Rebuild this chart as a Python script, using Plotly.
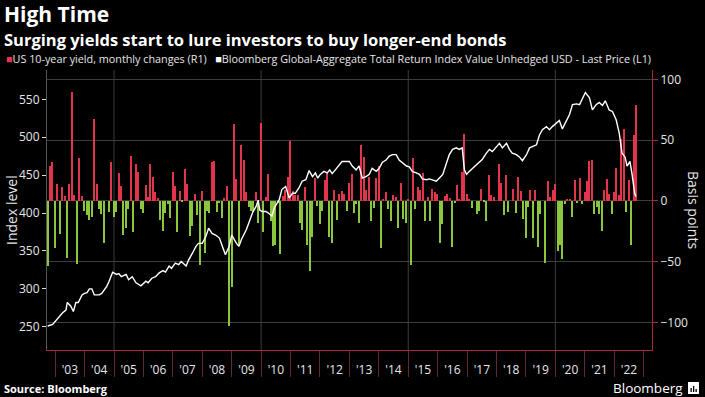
import pandas as pd
import plotly.graph_objects as go

# ---------------- data ----------------
# US 10-year yield, monthly change in basis points, month-ends Sep 2002 .. Sep 2022
yield_change_bp = [
    -54, 29, 32, -39,
    14, -27, 11, 4, -47, 14, 90, 5, -52, 35, 4, -8,
    -12, -16, -13, 67, 14, -7, -11, -35, 0, -9, 32, -13,
    -9, 23, 12, -28, -22, -7, 37, -26, 30, 24, -7, -10,
    13, 3, 30, 20, 7, 2, -16, -25, -10, -3, -14, 24,
    12, -26, 8, -1, 26, 14, -29, -21, 6, -12, -53, 8,
    -43, -8, -10, 32, 33, -9, -2, -14, 2, 12, -103, -71,
    63, 18, -36, 46, 34, 7, -5, -8, -9, 7, -18, 64,
    -26, 3, 22, -17, -37, -36, -2, -44, 4, 9, 20, 49,
    8, 5, 5, -18, -24, 11, -36, -58, -30, 19, -4, -19,
    -8, 17, 24, -30, -35, 9, -16, 6, 8, 6, -8, 15,
    22, -10, -3, -18, 46, 36, 9, 20, -17, -6, 19, 29,
    -39, 1, 7, -7, -17, 5, 3, -22, 15, -15, -18, 1,
    -53, 35, -7, 11, 9, 23, -17, 3, -17, 10, 7, 6,
    -35, -19, 4, 6, 2, -38, -2, 13, 1, 24, 55, 6,
    1, -6, 0, -11, -8, 10, -1, -17, 21, 5, 3, 0,
    30, 15, -12, 21, -9, 0, 10, -10, 20, 8, -15, -31,
    -5, 9, -31, 9, -38, -11, 0, -51, 16, 3, 9, 14,
    -41, -36, -48, -3, 1, 1, -13, 17, -2, 19, -3, 7,
    16, 33, 34, -11, -5, -11, -25, 9, 18, 6, -11, 7,
    27, 5, 51, 59, -9, 17, -36, 54, 79,
]
try:
    bar_dates = pd.date_range("2002-09-30", periods=len(yield_change_bp), freq="ME")
except ValueError:
    bar_dates = pd.date_range("2002-09-30", periods=len(yield_change_bp), freq="M")

# Bloomberg Global-Aggregate Total Return Index Value Unhedged USD (index level)
index_dates = [
    "2002-09-30", "2002-12-01", "2003-04-01", "2003-05-15", "2003-06-01", "2003-07-15",
    "2003-08-15", "2003-09-15", "2003-10-15", "2003-12-01", "2004-01-01", "2004-02-01",
    "2004-03-01", "2004-04-01", "2004-05-01", "2004-07-01", "2004-08-01", "2004-10-01",
    "2004-11-01", "2004-12-15", "2005-02-01", "2005-03-01", "2005-04-01", "2005-06-01",
    "2005-07-01", "2005-08-15", "2005-10-01", "2005-12-01", "2006-02-01", "2006-03-01",
    "2006-04-15", "2006-06-01", "2006-07-15", "2006-09-01", "2006-10-01", "2006-11-15",
    "2006-12-15", "2007-02-01", "2007-03-15", "2007-04-15", "2007-06-15", "2007-07-15",
    "2007-09-01", "2007-10-15", "2007-11-15", "2008-01-01", "2008-02-15", "2008-03-20",
    "2008-05-01", "2008-06-15", "2008-08-01", "2008-09-01", "2008-10-15", "2008-12-01",
    "2009-01-01", "2009-03-01", "2009-04-01", "2009-05-01", "2009-07-01", "2009-08-01",
    "2009-09-15", "2009-11-01", "2009-11-25", "2009-12-15", "2010-01-15", "2010-03-01",
    "2010-04-01", "2010-05-15", "2010-06-15", "2010-08-15", "2010-09-15", "2010-11-01",
    "2010-12-15", "2011-01-25", "2011-03-01", "2011-04-15", "2011-05-25", "2011-07-10",
    "2011-08-20", "2011-10-01", "2011-11-05", "2011-12-05", "2012-01-05", "2012-02-20",
    "2012-04-01", "2012-05-01", "2012-06-01", "2012-07-10", "2012-08-15", "2012-10-01",
    "2012-11-15", "2013-01-01", "2013-02-05", "2013-03-25", "2013-05-01", "2013-06-10",
    "2013-07-25", "2013-09-05", "2013-10-10", "2013-12-01", "2014-01-05", "2014-02-15",
    "2014-04-01", "2014-05-10", "2014-06-20", "2014-08-05", "2014-09-10", "2014-10-20",
    "2014-12-10", "2015-01-15", "2015-02-20", "2015-04-10", "2015-05-20", "2015-06-25",
    "2015-08-15", "2015-09-20", "2015-10-30", "2015-12-15", "2016-01-20", "2016-03-05",
    "2016-04-20", "2016-05-25", "2016-07-05", "2016-08-20", "2016-09-25", "2016-11-01",
    "2016-11-28", "2016-12-25", "2017-01-30", "2017-03-08", "2017-04-25", "2017-06-01",
    "2017-07-10", "2017-08-28", "2017-10-05", "2017-11-10", "2018-01-01", "2018-02-06",
    "2018-03-15", "2018-05-05", "2018-06-10", "2018-07-15", "2018-09-05", "2018-10-12",
    "2018-11-18", "2019-01-08", "2019-02-15", "2019-03-22", "2019-05-12", "2019-06-18",
    "2019-07-25", "2019-09-12", "2019-10-20", "2019-11-25", "2020-01-15", "2020-02-20",
    "2020-03-28", "2020-05-18", "2020-06-25", "2020-08-01", "2020-09-20", "2020-10-28",
    "2020-12-02", "2021-01-08", "2021-02-28", "2021-04-05", "2021-05-22", "2021-06-28",
    "2021-08-08", "2021-09-12", "2021-10-30", "2021-12-10", "2022-01-25", "2022-03-05",
    "2022-04-08", "2022-05-15", "2022-06-10", "2022-07-15", "2022-08-08", "2022-09-12",
    "2022-09-28",
]
index_level = [
    251, 253, 268, 272, 282, 277,
    270, 282, 282, 292, 294, 295,
    300, 300, 292, 292, 294, 303,
    310, 322, 319, 320, 316, 319,
    312, 316, 308, 304, 310, 308,
    314, 316, 321, 324, 322, 330,
    327, 334, 332, 336, 330, 338,
    347, 356, 360, 360, 369, 380,
    373, 371, 367, 358, 345, 356,
    371, 360, 356, 365, 378, 387,
    400, 409, 417, 404, 402, 402,
    400, 396, 407, 418, 431, 435,
    420, 426, 426, 433, 442, 444,
    456, 448, 453, 446, 451, 455,
    453, 457, 452, 457, 462, 468,
    468, 468, 462, 457, 462, 446,
    448, 451, 459, 455, 459, 467,
    470, 475, 477, 477, 470, 466,
    462, 461, 455, 453, 451, 445,
    444, 445, 444, 442, 446, 451,
    466, 477, 484, 486, 484, 486,
    457, 451, 455, 459, 464, 468,
    471, 479, 484, 481, 488, 492,
    486, 492, 484, 479, 477, 474,
    469, 477, 486, 488, 490, 503,
    510, 514, 510, 514, 519, 522,
    511, 521, 530, 543, 544, 543,
    552, 559, 552, 536, 543, 546,
    542, 548, 536, 534, 523, 505,
    479, 474, 462, 468, 453, 426,
    422,
]

x_tick_format = "'%y"
left_ticks = [250, 300, 350, 400, 450, 500, 550]
right_ticks = [-100, -50, 0, 50, 100]
grid_years = ["2005-01-01", "2010-01-01", "2015-01-01", "2020-01-01"]

# ---------------- style ----------------
RED = "#e2354d"
GREEN = "#8cc63e"
AXIS_RED = "#a82a3e"
SEP_RED = "#5e2a33"
GRID = "#3d3d3d"
TXT = "#e6e6e6"
FONT = "Open Sans"

bar_colors = [RED if v > 0 else GREEN for v in yield_change_bp]

fig = go.Figure()
fig.add_trace(go.Bar(
    x=bar_dates, y=yield_change_bp, marker=dict(color=bar_colors, line=dict(width=0)),
    width=16 * 24 * 3600 * 1000, yaxis="y", name="US 10-year yield, monthly changes (R1)",
))
fig.add_trace(go.Scatter(
    x=pd.to_datetime(index_dates), y=index_level, mode="lines", yaxis="y2",
    line=dict(color="#ffffff", width=1.4),
    name="Bloomberg Global-Aggregate Total Return Index Value Unhedged USD - Last Price (L1)",
))

W, H = 705, 397
ml, mr, mt, mb = 47, 53, 70, 47
pw, ph = W - ml - mr, H - mt - mb


def px_x(px):
    return (px - ml) / pw


def px_y(py):
    return (H - mb - py) / ph


fig.update_layout(
    width=W, height=H,
    margin=dict(l=ml, r=mr, t=mt, b=mb, pad=0),
    paper_bgcolor="#000000", plot_bgcolor="#000000",
    font=dict(family=FONT, color=TXT, size=12),
    showlegend=False, bargap=0,
    xaxis=dict(
        type="date", range=["2002-09-22", "2023-04-15"],
        dtick="M12", tick0="2003-01-01", tickformat=x_tick_format,
        ticklabelmode="period", ticks="outside", ticklen=26, tickcolor=SEP_RED, tickwidth=1,
        ticklabelstandoff=-17,
        tickfont=dict(size=12, color=TXT),
        showgrid=False, zeroline=False,
        showline=True, linecolor=AXIS_RED, linewidth=1,
    ),
    yaxis=dict(
        side="right", range=[-122.8, 107.7], tickvals=right_ticks,
        ticks="outside", ticklen=5, tickcolor=AXIS_RED, tickwidth=1,
        showline=True, linecolor=AXIS_RED, linewidth=1.2,
        showgrid=True, gridcolor=GRID, gridwidth=1, zeroline=False,
        tickfont=dict(size=12, color=TXT),
    ),
    yaxis2=dict(
        overlaying="y", side="left", range=[219.3, 588.7], tickvals=left_ticks,
        ticks="outside", ticklen=4, tickcolor="#dddddd", tickwidth=1,
        showline=True, linecolor="#555555", linewidth=1,
        showgrid=False, zeroline=False,
        tickfont=dict(size=12, color=TXT),
    ),
)

for g in grid_years:
    fig.add_shape(type="line", xref="x", yref="paper", x0=g, x1=g, y0=0, y1=1,
                  line=dict(color=GRID, width=1), layer="below")

legend_html = (
    f"<span style='color:{RED}'>■</span>US 10-year yield, monthly changes (R1)"
    "&nbsp;&nbsp;&nbsp;<span style='color:#ffffff'>■</span>Bloomberg Global-Aggregate Total Return "
    "Index Value Unhedged USD - Last Price (L1)"
)

annos = [
    dict(text="<b>High Time</b>", x=px_x(2), y=px_y(14), font=dict(size=21, color="#ffffff", family=FONT),
         xanchor="left", yanchor="middle"),
    dict(text="<b>Surging yields start to lure investors to buy longer-end bonds</b>", x=px_x(2), y=px_y(40),
         font=dict(size=16.5, color="#ffffff", family=FONT), xanchor="left", yanchor="middle"),
    dict(text=legend_html, x=px_x(4), y=px_y(59), font=dict(size=10.8, color=TXT, family=FONT),
         xanchor="left", yanchor="middle"),
    dict(text="Index level", x=px_x(11), y=0.5, textangle=-90, font=dict(size=14, color=TXT, family=FONT),
         xanchor="center", yanchor="middle"),
    dict(text="Basis points", x=px_x(694), y=0.5, textangle=90, font=dict(size=14, color=TXT, family=FONT),
         xanchor="center", yanchor="middle"),
    dict(text="<b>Source: Bloomberg</b>", x=px_x(2), y=px_y(388), font=dict(size=11, color="#ffffff", family=FONT),
         xanchor="left", yanchor="middle"),
    dict(text="Bloomberg", x=px_x(685), y=px_y(388), font=dict(size=13.5, color="#ffffff", family=FONT),
         xanchor="right", yanchor="middle"),
]
for a in annos:
    a.update(xref="paper", yref="paper", showarrow=False)
fig.update_layout(annotations=annos)

# small Bloomberg logo glyph
fig.add_shape(type="rect", xref="paper", yref="paper", x0=px_x(688), x1=px_x(699), y0=px_y(394), y1=px_y(382),
              fillcolor="#ffffff", line=dict(width=0))
for bx, top in [(690.5, 388), (693, 386), (695.5, 389)]:
    fig.add_shape(type="rect", xref="paper", yref="paper", x0=px_x(bx), x1=px_x(bx + 1.3),
                  y0=px_y(392), y1=px_y(top), fillcolor="#000000", line=dict(width=0))

fig.write_html(
    "out.html",
    config={"displayModeBar": False},
    post_script="document.body.style.margin='0';document.body.style.overflow='hidden';",
)
